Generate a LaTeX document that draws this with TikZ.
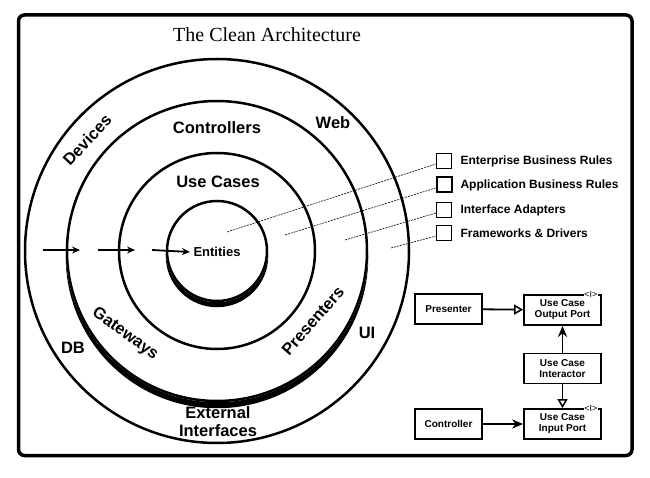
\documentclass[tikz,border=0pt]{standalone}
\usepackage{fontspec}
\setmainfont{Liberation Serif}
\newfontfamily\ringfont{Liberation Sans}
\usetikzlibrary{arrows.meta}

\begin{document}
\begin{tikzpicture}[x=1pt,y=1pt]
			\useasboundingbox (0,0) rectangle (650,477);
			\draw[line width=3.5pt, rounded corners=6pt] (18.5,21.5) rectangle (632,462);
			\node (title) at (267,442) {\fontsize{20}{20}\selectfont The Clean Architecture};
			% the rings
			\coordinate (O) at (217,226);
			\begin{scope}[line width=2.5pt]
				\draw (O) circle (192pt);
				\draw (O) circle (150pt);
				\draw (O) circle (98pt);
				\draw (O) circle (50pt);
			\end{scope}
			\begin{scope}
				\clip ([yshift=-3pt]O) ++(-200pt,0) rectangle ++(400pt,-200pt);
				\fill[even odd rule] ([yshift=-6pt]O) circle (151.25pt) (O) circle (151.25pt);
				\fill[even odd rule] ([yshift=-5pt]O) circle (51.25pt) (O) circle (51.25pt);
			\end{scope}
			\begin{scope}[every node/.style={font=\ringfont\bfseries\fontsize{16.5}{18}\selectfont, align=center}]
				\node (devices) at (87,337) [rotate=47] {Devices};
				\node (controllers) at (217,349) {Controllers};
				\node (web) at (333,354) {Web};
				\node (usecases) at (218,295) {Use Cases};
				\node (gateways) at (125,143) [rotate=-36] {Gateways};
				\node (presenters) at (313,156) [rotate=49] {Presenters};
				\node (ui) at (367,144) {UI};
				\node (db) at (73,129) {DB};
				\node (extif) at (218,55) {External\\Interfaces};
				\node (entities) at (217,225) [font=\ringfont\bfseries\fontsize{13}{13}\selectfont] {Entities};
			\end{scope}
			\coordinate (a1) at (43,227);
			\coordinate (b1) at (80,227);
			\coordinate (a2) at (98,227);
			\coordinate (b2) at (135,227);
			\coordinate (a3) at (152,227);
			\begin{scope}[>={Stealth[length=8pt,width=7pt]},
				every edge/.style={draw,line width=1.8pt}]
				\path [->] (a1) edge (b1);
				\path [->] (a2) edge (b2);
				\path [->] (a3) edge (entities.west);
			\end{scope}
			% legend
			\begin{scope}[every node/.style={draw,line width=1pt,minimum size=15pt,inner sep=0pt}]
				\node (leg1) at (444,316) {};
				\node (leg2) at (444,292) [line width=2pt] {};
				\node (leg3) at (444,267) {};
				\node (leg4) at (444,244) {};
			\end{scope}
			\begin{scope}[every node/.style={anchor=west,font=\ringfont\bfseries\fontsize{12}{12}\selectfont}]
				\node (ebr) at (457,316) {Enterprise Business Rules};
				\node (abr) at (457,292) {Application Business Rules};
				\node (ia) at (457,267) {Interface Adapters};
				\node (fd) at (457,244) {Frameworks \& Drivers};
			\end{scope}
			\coordinate (p1) at (227,245);
			\coordinate (p2) at (285,242);
			\coordinate (p3) at (345,237);
			\coordinate (p4) at (391,229);
			\begin{scope}[every edge/.style={draw,line width=0.6pt,dash pattern=on 2pt off 1pt}]
				\path (p1) edge ([yshift=-3pt]leg1.west);
				\path (p2) edge ([yshift=-3pt]leg2.west);
				\path (p3) edge ([yshift=-3pt]leg3.west);
				\path (p4) edge ([yshift=-3pt]leg4.west);
			\end{scope}
			% flow of control
			\begin{scope}[every node/.style={draw,line width=1.8pt,align=center,inner sep=0pt,
					minimum height=30pt,minimum width=77pt,
					font=\ringfont\bfseries\fontsize{10}{11}\selectfont}]
				\node (presenter) at (448.5,168) [minimum width=67pt] {Presenter};
				\node (outport) at (562.5,167) {Use Case\\Output Port};
				\node (interactor) at (562.5,108.5) {Use Case\\Interactor};
				\node (inport) at (562.5,53) {Use Case\\Input Port};
				\node (controller) at (448.5,53) [minimum width=67pt] {Controller};
			\end{scope}
			\begin{scope}[every node/.style={fill=white,inner sep=0.5pt,font=\ringfont\fontsize{9}{9}\selectfont}]
				\node (outI) at ([xshift=-11pt]outport.north east) {<I>};
				\node (inI) at ([xshift=-11pt]inport.north east) {<I>};
			\end{scope}
			\begin{scope}[every edge/.style={draw,line width=1.8pt}]
				\path [-{Triangle[open,length=9pt,width=10pt,line width=1.5pt]}] (presenter) edge (outport);
				\path [-{Stealth[length=11pt,width=9pt]}] (interactor) edge (outport);
				\path [-{Triangle[open,length=9pt,width=10pt,line width=1.5pt]}] (interactor) edge (inport);
				\path [-{Stealth[length=11pt,width=9pt]}] (controller) edge (inport);
			\end{scope}
		\end{tikzpicture}
\end{document}
